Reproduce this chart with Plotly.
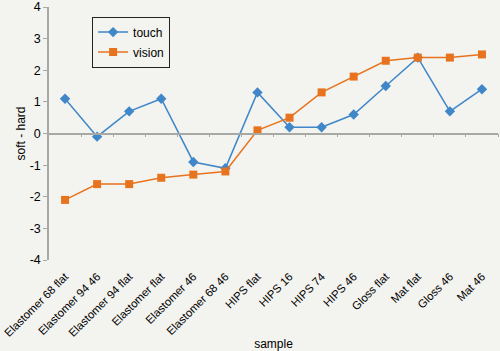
import plotly.graph_objects as go

categories = ["Elastomer 68 flat", "Elastomer 94 46", "Elastomer 94 flat", "Elastomer flat",
              "Elastomer 46", "Elastomer 68 46", "HIPS flat", "HIPS 16", "HIPS 74", "HIPS 46",
              "Gloss flat", "Mat flat", "Gloss 46", "Mat 46"]
touch = [1.1, -0.1, 0.7, 1.1, -0.9, -1.1, 1.3, 0.2, 0.2, 0.6, 1.5, 2.4, 0.7, 1.4]
vision = [-2.1, -1.6, -1.6, -1.4, -1.3, -1.2, 0.1, 0.5, 1.3, 1.8, 2.3, 2.4, 2.4, 2.5]
y_ticks = [-4, -3, -2, -1, 0, 1, 2, 3, 4]
y_ticktext = ["-4", "-3", "-2", "-1", "0", "1", "2", "3", "4"]

BLUE = "#3f87c9"
ORANGE = "#e8731f"
BG = "#f3f3ef"
AXIS = "#a8a8a4"
FONT = "Liberation Sans, Arial, sans-serif"

fig = go.Figure()
fig.add_trace(go.Scatter(x=categories, y=touch, name="touch", mode="lines+markers",
                         line=dict(color=BLUE, width=1.5),
                         marker=dict(symbol="diamond", size=8, color=BLUE),
                         legendgroup="a"))
fig.add_trace(go.Scatter(x=categories, y=vision, name="vision", mode="lines+markers",
                         line=dict(color=ORANGE, width=1.5),
                         marker=dict(symbol="square", size=8, color=ORANGE),
                         legendgroup="b"))
# helper trace for the zero axis with boundary ticks
fig.add_trace(go.Scatter(x=[None], y=[None], xaxis="x2", showlegend=False, hoverinfo="skip"))

n = len(categories)
fig.update_layout(
    width=500, height=351,
    margin=dict(l=49, r=2, t=7, b=91),
    paper_bgcolor=BG, plot_bgcolor=BG,
    font=dict(family=FONT, size=12, color="black"),
    showlegend=True,
    legend=dict(x=0.096, y=0.962, xanchor="left", yanchor="top",
                bgcolor=BG, bordercolor="#222222", borderwidth=1,
                font=dict(size=12), itemwidth=30,
                traceorder="grouped", tracegroupgap=1),
    xaxis=dict(type="category", categoryorder="array", categoryarray=categories,
               range=[-0.5, n - 0.5], showline=False, showgrid=False, zeroline=False,
               ticks="", tickangle=-45, ticklabelstandoff=7, automargin=False,
               tickfont=dict(size=11.3),
               title=dict(text="sample", font=dict(size=12), standoff=6)),
    xaxis2=dict(overlaying="x", anchor="free", position=0.5, range=[-0.5, n - 0.5],
                showline=True, linecolor=AXIS, linewidth=1.5, showgrid=False, zeroline=False,
                ticks="outside", ticklen=3, tickcolor=AXIS, tickwidth=1,
                tickvals=[i + 0.5 for i in range(n)], showticklabels=False),
    yaxis=dict(range=[-4, 4], tickvals=y_ticks, ticktext=y_ticktext,
               showline=True, linecolor=AXIS, linewidth=1.5,
               ticks="outside", ticklen=4, tickcolor=AXIS, showgrid=False, zeroline=False,
               automargin=False, tickfont=dict(size=12.5)),
    annotations=[dict(text="soft - hard", xref="paper", yref="paper", x=0, y=0.5,
                      xanchor="center", yanchor="middle", xshift=-29, textangle=-90,
                      showarrow=False, font=dict(size=12))],
)

fig.write_html("out.html")
